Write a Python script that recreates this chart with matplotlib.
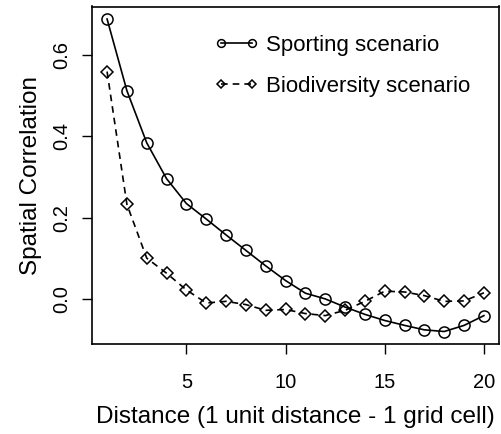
import matplotlib.pyplot as plt
import numpy as np

plt.rcParams['font.family'] = ['Liberation Sans', 'DejaVu Sans']

# distance lags and correlations
distance = list(range(1, 21))
sporting = [0.688, 0.512, 0.384, 0.296, 0.235, 0.197, 0.158, 0.120, 0.082, 0.046,
            0.015, 0.001, -0.019, -0.037, -0.052, -0.064, -0.075, -0.079, -0.064, -0.040]
biodiversity = [0.559, 0.233, 0.101, 0.064, 0.023, -0.009, -0.005, -0.013, -0.027, -0.025,
                -0.035, -0.040, -0.027, -0.005, 0.020, 0.018, 0.009, -0.005, -0.004, 0.016]
xticks = [5, 10, 15, 20]
yticks = [0.0, 0.2, 0.4, 0.6]

fig = plt.figure(figsize=(5.01, 4.34), dpi=100)
ax = fig.add_axes([92/501, 90/434, 407/501, 337.5/434])

ax.plot(distance, sporting, 'k-', lw=1.2, marker='o', ms=8, mfc='none', mew=1.1,
        label='Sporting scenario')
ax.plot(distance, biodiversity, 'k--', lw=1.2, marker='D', ms=6.5, mfc='none', mew=1.1,
        dashes=(4, 3), label='Biodiversity scenario')

# R style 4% padding
ymin, ymax = min(sporting + biodiversity), max(sporting + biodiversity)
pad = (ymax - ymin) * 0.04
ax.set_ylim(ymin - pad, ymax + pad)
ax.set_xlim(1 - 19 * 0.04, 20 + 19 * 0.04)

ax.set_xticks(xticks)
ax.set_xticklabels([str(t) for t in xticks])
ax.set_yticks(yticks)
ax.set_yticklabels(['%.1f' % t for t in yticks], rotation=90, va='center')
ax.tick_params(direction='out', length=7, width=1, labelsize=14.5, pad=14)
ax.tick_params(axis='y', pad=8)
for s in ax.spines.values():
    s.set_linewidth(1.2)

ax.set_xlabel('Distance (1 unit distance - 1 grid cell)', fontsize=17.5, labelpad=10)
ax.set_ylabel('Spatial Correlation', fontsize=17.5, labelpad=7)

leg = ax.legend(loc='upper left', bbox_to_anchor=(0.3, 0.915), frameon=False,
                fontsize=16, numpoints=2, markerscale=0.7, handlelength=2.0,
                handletextpad=0.35, labelspacing=0.9, borderpad=0, borderaxespad=0)

fig.savefig('out.png', dpi=100)
